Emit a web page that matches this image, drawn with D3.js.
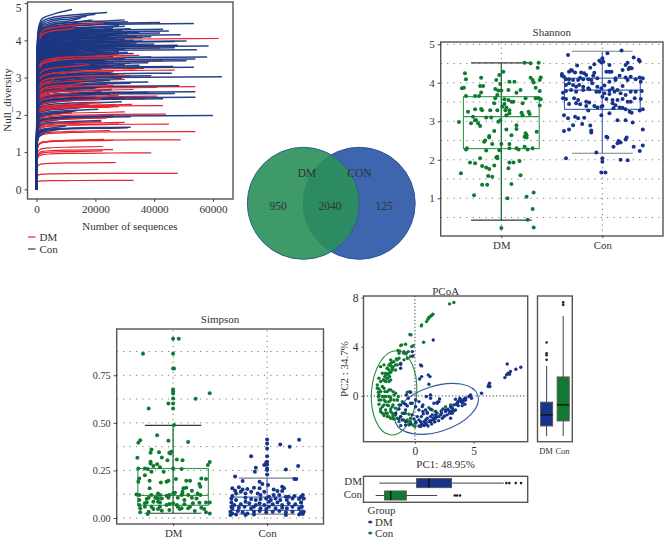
<!DOCTYPE html>
<html>
<head>
<meta charset="utf-8">
<script src="https://cdn.jsdelivr.net/npm/d3@7"></script>
<style>
  html, body { margin: 0; padding: 0; background: #fff; }
  text { font-family: "Liberation Serif", serif; fill: #333; }
</style>
</head>
<body>
<div id="chart"></div>
<script>
// ---- rarefaction curves : [final depth, final diversity]
var rareDM = [[33000,.24],[48000,.43],[27000,.72],[39000,.98],[26000,1.07],[22500,1.03],[22500,1.15],[49000,1.33],[26000,1.32],[23000,1.34],[54000,1.55],[25000,1.58],[45000,1.75],[30000,1.8],[28000,1.76],[22000,1.82],[23500,1.92],[26000,1.95],[44000,2.02],[30000,2.08],[43000,2.25],[32500,2.28],[27000,2.23],[27000,2.26],[37000,2.43],[41000,2.5],[33500,2.6],[15000,2.62],[25500,2.7],[41000,2.74],[54000,2.76],[30000,2.95],[23000,2.92],[33000,3.2],[47000,3.2],[36500,3.25],[32000,3.05],[32000,3.38],[43000,3.45],[30000,3.5],[20000,3.6],[35000,3.6],[27000,3.7],[62000,4.05],[33000,4.1],[42000,3.8],[18000,4.45]];
var rareCon = [[12000,4.83],[20000,4.7],[24000,4.75],[30000,4.55],[31000,4.5],[42000,4.48],[53500,4.45],[28000,4.4],[43000,4.3],[45000,4.25],[28000,4.2],[42000,4.2],[49000,4.15],[39000,4.1],[34000,4.1],[51000,3.98],[47000,3.97],[36000,3.98],[40000,3.9],[41000,3.85],[48000,3.87],[58500,3.85],[47000,3.8],[54500,3.75],[28000,3.7],[33000,3.65],[58000,3.55],[54000,3.5],[51000,3.45],[39000,3.55],[38000,3.4],[35000,3.33],[46500,3.3],[53500,3.28],[46000,3.12],[39000,3.05],[63000,3.02],[29000,2.98],[38000,2.88],[32000,2.85],[48500,2.78],[25500,2.68],[38000,2.6],[54000,2.62],[47000,2.57],[54000,2.47],[43000,2.43],[30000,2.45],[29000,2.35],[21000,2.15],[60000,1.98],[26000,1.97],[32000,1.95],[22000,1.85],[31000,1.65],[32000,1.67],
  [17000,4.65],[15000,4.6],[19000,4.55],[14000,4.5],[25000,4.45],[13000,4.42],[22000,4.35],[16000,4.32],[26000,4.28],[20000,4.24],[18000,4.15],[24000,4.12],[27000,4.05],[21000,4.02],[25000,3.95],[19000,3.92],[30000,3.88],[24000,3.82],[17000,3.78],[22000,3.72],[16000,3.68],[21000,3.62],[26000,3.58],[14000,3.52],[23000,3.46],[12000,3.42],[20000,3.36],[25000,3.3],[11000,3.26],[18000,3.14],[24000,3.1],[20000,2.96],[15000,2.9],[10000,2.82],[22000,2.75],[14000,2.5],[12000,2.4],[18000,2.3],[8000,2.22],[12000,2.08],[9000,1.9],[10000,1.7],[6000,3.78],[7000,4.1],[5000,4.35],[4000,3.2],[3000,2.9],[5000,2.05],[3000,1.55],
  [30000,4.38],[26000,4.34],[32000,4.31],[29000,4.26],[35000,4.22],[31000,4.18],[27000,4.14],[36000,4.08],[30000,4.03],[33000,4],[28000,3.96],[34000,3.93],[29000,3.9],[32000,3.84],[27000,3.8],[30000,3.76],[26000,3.74],[31000,3.68],[28000,3.64],[30000,3.52],[24000,3.48],[29000,3.44],[26000,3.4],[30000,3.35],[22000,3.24],[26000,3.16],[28000,3.1],[25000,2.92],[24000,2.82],[20000,2.72],[22000,2.62],[25000,2.55],[20000,2.48],[16000,2.42],[15000,2.2],[14000,2.12],[10000,1.92],[8000,1.62],[14000,3.02],[12000,3.18],[15000,3.28]];
// red curves that lie over the blue ones once they have levelled off
var rareDMTop = [[27500,3.61],[13000,4.38],[23000,4.47],[8000,3.55],[34000,3.2],[30000,3.07],[26000,2.8],[20000,2.95],[28000,2.53],[27000,2.26],[15000,2.62],[33000,2.68],[28000,2.22],[26000,2.28],[24000,1.92],[30000,3.55],[22000,2.42],[12000,2.05],[18000,3.35],[16000,2.85],[6000,3],[10000,2.72],[22000,2.32]];
// shape shared by the curves
var rareSeqs = [0, 60, 200, 500, 1000, 2000, 5000, 12000, 25000];
var rareFrac = [0, .5, .78, .88, .92, .95, .97, .985, .995];
var rareXTicks = [0, 20000, 40000, 60000];
var rareYTicks = [0, 1, 2, 3, 4, 5];

// ---- venn
var vennSets = ["DM", "CON"];
var vennCounts = [950, 2040, 125];

// ---- shannon : [jitter, value]
var groupNames = ["DM", "Con"];
var shannonDM = [[-.36,4.25],[-.35,4.09],[-.39,3.86],[-.37,3.87],[-.35,3.66],[-.26,3.66],[-.22,3.66],[-.2,4.13],[-.21,3.92],[-.18,3.92],[-.2,3.75],[-.05,4.07],[-.02,4.2],[.02,4.29],[-.01,3.97],[-.06,3.84],[-.03,3.8],[-.04,3.68],[0,3.8],[.08,4.03],[.13,4.03],[.07,3.81],[.15,3.74],[.19,3.81],[.23,4.52],[.29,4.51],[.37,4.52],[.36,4.39],[.29,4.13],[.31,4.07],[.32,4.01],[.39,4.14],[.38,4.07],[.34,3.87],[.38,3.79],[.37,3.6],[.39,3.57],[.38,3.41],[.34,3.6],[.24,3.6],[.21,3.47],[.03,3.57],[.07,3.55],[.1,3.51],[.12,3.51],[-.06,3.6],[-.07,3.47],[.03,3.45],[.01,3.38],[.05,3.36],[.08,3.29],[.04,3.29],[-.04,3.29],[-.11,3.29],[-.2,3.32],[-.19,3.29],[-.33,3.25],[-.26,3.31],[-.42,2.98],[-.28,3.12],[-.3,2.95],[-.26,3.03],[-.25,3.03],[-.23,2.95],[-.21,2.88],[-.15,3.1],[-.1,3.1],[-.03,2.99],[-.01,3.03],[.08,3.21],[.05,3.16],[.2,3.22],[.21,3.16],[.27,3.25],[.28,3.19],[.15,2.9],[.15,2.8],[.05,2.79],[.1,2.64],[.24,2.69],[.25,2.58],[.25,2.64],[.23,2.6],[.35,2.73],[-.07,2.75],[-.12,2.62],[-.12,2.58],[-.16,2.5],[-.17,2.47],[-.09,2.41],[0,2.41],[.08,2.41],[-.35,2.27],[-.34,2.3],[-.15,2.24],[-.02,2.25],[.08,2.3],[.15,2.3],[.17,2.27],[.23,2.34],[.26,2.27],[.31,2.3],[-.21,2.04],[-.31,1.93],[-.26,1.91],[-.05,2.06],[-.04,2.08],[-.04,2.04],[-.19,1.84],[-.15,1.8],[-.12,1.76],[-.07,1.85],[.07,1.78],[.08,1.93],[.12,1.93],[.18,1.97],[-.4,1.65],[-.13,1.58],[-.09,1.56],[.19,1.6],[-.19,1.35],[-.14,1.35],[.1,1.37],[-.27,1.08],[.06,1],[.25,1.04],[.32,1.15],[.31,.72],[.26,.44],[0,.23],[.32,.24]];
var shannonCon = [[-.34,4.72],[.05,4.77],[.19,4.84],[.31,4.66],[.36,4.6],[.37,4.56],[.25,4.52],[.23,4.46],[.27,4.39],[.07,4.46],[0,4.64],[-.03,4.57],[-.01,4.53],[.01,4.55],[-.3,4.31],[-.25,4.45],[-.4,4.23],[-.38,4.16],[-.33,4.29],[-.31,4.33],[-.27,4.27],[-.21,4.27],[-.18,4.25],[-.16,4.2],[-.12,4.39],[-.08,4.48],[-.08,4.26],[.04,4.29],[.07,4.29],[.09,4.29],[.2,4.33],[.26,4.36],[.29,4.38],[-.4,4.18],[-.36,4.09],[-.33,4.09],[-.29,4.07],[-.24,4.07],[-.22,4.13],[-.19,4.09],[-.14,4.09],[-.11,4.07],[-.09,4.18],[-.05,4.12],[-.36,3.94],[-.33,3.99],[-.29,3.94],[-.26,3.9],[-.23,3.94],[-.19,3.9],[-.14,3.86],[-.1,3.99],[-.05,3.9],[-.01,3.86],[.02,3.93],[.07,4.03],[.13,4.07],[.13,4.12],[.17,4.18],[.23,4.14],[.25,4.07],[.28,4.16],[.37,4.14],[.4,4.12],[.38,4.03],[.33,4.09],[.2,3.92],[.15,3.81],[.1,3.86],[.07,3.8],[-.39,3.74],[-.36,3.79],[-.31,3.81],[-.26,3.77],[-.19,3.81],[-.13,3.83],[-.06,3.77],[-.03,3.77],[.02,3.73],[.07,3.71],[.12,3.77],[.18,3.73],[.23,3.68],[.28,3.77],[.33,3.77],[.39,3.79],[-.39,3.6],[-.36,3.58],[-.28,3.6],[-.24,3.55],[-.16,3.51],[-.13,3.49],[0,3.64],[.04,3.58],[.1,3.55],[.15,3.55],[.2,3.58],[.25,3.51],[.28,3.51],[.32,3.6],[.38,3.58],[-.33,3.45],[-.26,3.47],[-.22,3.44],[-.16,3.4],[-.08,3.4],[-.05,3.36],[-.01,3.38],[0,3.4],[.1,3.47],[.13,3.42],[.17,3.36],[.2,3.35],[.23,3.31],[.27,3.25],[.29,3.22],[.37,3.28],[.4,3.31],[-.14,3.28],[-.38,3.16],[-.34,3.08],[-.27,3.12],[-.24,3.08],[-.18,3.09],[-.01,3.16],[.07,3.21],[.11,3.34],[.15,3.03],[.23,3.03],[.3,2.97],[-.29,2.9],[-.2,2.93],[-.33,2.79],[-.38,2.75],[-.12,2.89],[-.11,2.76],[-.11,2.71],[.04,2.6],[.05,2.58],[.24,2.58],[.23,2.53],[.16,2.49],[.18,2.45],[.11,2.34],[.15,2.43],[.31,2.34],[.4,2.37],[.37,2.23],[-.06,2.19],[-.36,2.04],[0,2.04],[0,1.95],[.18,2],[.25,1.99],[-.01,1.67],[.03,1.67],[.4,2.79]];
// [q1, median, q3, low whisker, high whisker]
var shannonBoxes = [[2.29,3.12,3.64,.43,4.52],[3.31,3.81,4.12,2.17,4.82]];
var shannonTicks = [1, 2, 3, 4, 5];

// ---- simpson : [jitter, value]
var simpsonDM = [[0,.942],[.06,.942],[-.32,.863],[0,.863],[0,.785],[.01,.785],[0,.675],[0,.666],[0,.654],[0,.628],[0,.601],[0,.575],[-.26,.575],[-.05,.601],[.24,.626],[.39,.655],[.01,.488],[-.17,.435],[-.05,.406],[.16,.399],[-.35,.409],[-.37,.395],[-.23,.36],[-.24,.343],[-.15,.346],[-.04,.343],[-.02,.348],[-.38,.316],[-.24,.295],[-.24,.287],[-.03,.339],[-.12,.318],[-.06,.304],[.04,.308],[.1,.304],[-.17,.283],[-.21,.273],[-.14,.266],[.39,.294],[.37,.278],[-.37,.26],[-.3,.26],[-.27,.257],[-.23,.243],[-.1,.243],[0,.26],[.09,.257],[-.36,.208],[-.37,.191],[-.3,.225],[-.25,.196],[-.25,.156],[-.13,.187],[-.07,.191],[-.05,.196],[.03,.205],[.14,.196],[.18,.196],[.3,.208],[.35,.205],[.28,.178],[.29,.164],[.14,.159],[.11,.156],[.2,.143],[.1,.138],[.09,.121],[-.39,.124],[-.36,.121],[-.23,.121],[-.16,.129],[-.14,.121],[-.07,.117],[-.04,.121],[0,.129],[.02,.133],[.1,.124],[.16,.121],[.26,.129],[.29,.121],[-.36,.094],[-.28,.1],[-.26,.107],[-.19,.107],[-.18,.108],[-.16,.103],[-.12,.103],[-.05,.107],[.05,.107],[.12,.094],[.2,.107],[.25,.103],[.35,.082],[.39,.082],[-.36,.068],[-.3,.077],[-.28,.082],[-.21,.086],[-.16,.086],[-.14,.082],[-.04,.073],[0,.077],[.04,.068],[.12,.072],[.21,.077],[.28,.08],[-.35,.051],[-.3,.059],[-.23,.059],[-.14,.059],[-.07,.068],[.05,.059],[.09,.051],[.18,.059],[.3,.054],[.33,.047],[-.35,.03],[-.26,.033],[-.21,.047],[-.16,.047],[-.04,.042],[.07,.047],[.16,.051],[.23,.037],[.35,.03],[.39,.024],[-.27,.021],[-.12,.038]];
var simpsonCon = [[0,.412],[0,.392],[.14,.386],[.24,.374],[.34,.411],[-.17,.325],[0,.365],[0,.325],[0,.295],[-.01,.292],[0,.281],[-.03,.278],[0,.26],[0,.252],[.2,.255],[.33,.273],[-.12,.264],[-.13,.243],[-.34,.218],[0,.229],[.29,.205],[.31,.205],[-.26,.194],[-.08,.191],[-.05,.178],[.01,.173],[-.37,.156],[-.34,.143],[-.3,.161],[-.26,.15],[-.21,.152],[-.14,.159],[-.08,.156],[.07,.15],[.11,.142],[.16,.164],[.18,.156],[.16,.142],[-.37,.115],[-.33,.129],[-.28,.138],[-.23,.129],[-.17,.138],[-.1,.129],[-.07,.121],[-.03,.138],[.02,.112],[.07,.121],[.13,.121],[.2,.112],[.23,.112],[.29,.115],[.36,.112],[.38,.121],[-.38,.103],[-.33,.094],[-.23,.107],[-.17,.1],[-.12,.094],[-.07,.1],[-.01,.103],[.04,.094],[.09,.103],[.14,.094],[.21,.094],[.27,.103],[.34,.1],[.39,.103],[-.38,.082],[-.35,.068],[-.28,.072],[-.23,.086],[-.19,.077],[-.12,.068],[-.08,.077],[-.03,.068],[.02,.086],[.06,.072],[.11,.082],[.16,.068],[.23,.077],[.3,.072],[.36,.082],[-.38,.059],[-.37,.051],[-.3,.054],[-.24,.059],[-.17,.051],[-.14,.059],[-.07,.051],[-.01,.047],[.02,.059],[.09,.051],[.16,.054],[.21,.051],[.27,.059],[.34,.051],[.37,.059],[-.39,.033],[-.37,.024],[-.31,.037],[-.26,.03],[-.21,.024],[-.14,.033],[-.08,.037],[-.01,.03],[.06,.033],[.13,.037],[.2,.03],[.27,.033],[.36,.03],[.39,.033],[-.39,.016],[-.33,.019],[-.23,.016],[-.14,.019],[.2,.016],[.34,.019],[.38,.021]];
var simpsonBoxes = [[.067,.118,.26,.025,.487],[.04,.065,.11,.02,.21]];
var simpsonTicks = [0, .25, .5, .75];

// ---- PCoA : [PC1, PC2]
var pcoaCon = [[2.95,7.48],[3.32,7.59],[1.53,6.64],[1.42,6.53],[1.31,6.45],[1.19,6.37],[1.11,6.23],[.99,6.04],[.54,5.69],[.57,5.77],[-.43,4.99],[-.34,4.96],[.74,4.36],[-.14,4.09],[-.28,4.01],[-.8,4.2],[-1.14,4.15],[-1.22,4.09],[-1.45,3.69],[-1.31,3.66],[-.94,3.47],[-.74,3.47],[-.57,3.6],[-1.36,3.06],[-1.59,3.01],[-1.51,2.93],[-2.07,2.93],[-1.93,2.74],[-2.22,2.52],[-2.07,2.44],[-1.87,2.38],[-1.65,2.52],[-2.36,2.25],[-2.22,2.11],[-1.93,2.11],[-2.5,1.84],[-2.3,1.76],[-2.07,1.92],[-2.58,1.57],[-2.36,1.44],[-2.16,1.57],[-2.7,1.3],[-2.5,1.17],[-2.22,1.17],[-3.21,.89],[-3.07,.57],[-2.78,.76],[-3.12,.3],[-2.93,.35],[-2.56,.35],[-2.22,.49],[-1.87,.35],[-1.65,.22],[-3.12,-.05],[-2.78,-.05],[-2.5,-.05],[-2.07,-.14],[-1.42,-.05],[-.65,.3],[-.45,.35],[-3.07,-.33],[-2.64,-.33],[-2.22,-.46],[-1.79,-.33],[-1.51,-.33],[-1.08,-.46],[-3.07,-.68],[-2.64,-.73],[-2.27,-.79],[-1.87,-.73],[-1.36,-.73],[-2.93,-1.06],[-2.5,-1.14],[-2.07,-1.06],[-1.65,-1],[-2.78,-1.41],[-2.36,-1.41],[-1.93,-1.41],[-2.64,-1.6],[-2.22,-1.68],[-1.87,-1.6],[-2.07,-1.82],[-1.79,-1.87],[-1.08,-1.41],[-.8,-1.41],[-.51,-1.49],[-1.36,-2.09],[-.65,-1.95],[-.37,-2.09],[-.17,-2.36],[0,-2.49],[-.51,-2.36],[.06,-2.22],[1.05,-1.33],[1.48,-1.14],[1.9,-1.41],[3.04,-.73],[2.61,-.87],[1.19,-.95],
  [-2.93,2.38],[-2.64,2.52],[-2.36,2.25],[-2.78,1.84],[-2.5,1.71],[-2.22,1.84],[-2.07,2.66],[-1.79,2.79],[-1.93,2.25],[-1.65,2.11],[-1.51,2.52],[-3.07,1.44],[-2.93,1.17],[-2.64,1.3],[-2.36,1.44],[-2.07,1.3],[-3.21,.62],[-2.93,.35],[-2.64,.62],[-2.36,.35],[-2.07,.49],[-3.07,.08],[-2.64,-.05],[-2.22,-.05],[-1.79,.08],[-2.93,-.33],[-2.5,-.46],[-2.07,-.33],[-1.51,-.33],[-2.78,-.87],[-2.36,-.73],[-1.93,-.87],[-2.93,-1.27],[-2.5,-1.41],[-2.07,-1.27],[-1.65,-1.54],[-2.36,-1.68],[-1.93,-1.82],[-1.51,-1.82],[-1.22,-1.68],[-.94,-1.95],[-.65,-2.09],[-.37,-1.82],[.06,-2.09],[-1.22,2.66],[-.94,2.93],[-.65,3.06],[-1.36,3.47],[-.94,3.6],[-.37,3.2]];
var pcoaDM = [[1.56,4.55],[-.23,3.6],[-.17,3.25],[-1.22,2.57],[-1.22,2.25],[.48,2.52],[.57,2.44],[1.14,1.71],[1.28,1.57],[.57,1.57],[.4,1.38],[1.19,.95],[7.87,2.6],[9.03,2.33],[8.61,2.17],[8.15,1.98],[7.95,1.84],[7.81,1.71],[7.67,1.49],[8.07,1.76],[6.36,1.03],[6.3,.89],[6.25,.76],[6.39,.76],[5.68,.22],[4.74,.03],[4.83,-.19],[4.26,-.19],[4.12,-.33],[4.32,-.33],[3.89,-.46],[4.03,-.51],[3.81,-.33],[3.61,-.6],[4.26,-.68],[4.03,-.79],[2.1,-.24],[1.9,-.51],[1.62,-.6],[1.33,-.19],[.97,-.05],[.68,-.73],[.34,-.46],[.06,-.33],[-.37,-.6],[-.8,-.68],[-.57,-.19],[-.37,.3],[-.74,.08],[-.94,-.6],[-1.22,-.73],[-1.36,-1.06],[-1.65,-1.41],[-1.22,-1.68],[-.8,-1.14],[-.23,-1.54],[.34,-1.14],[.68,-1.27],[1.05,-1.41],[3.46,-1.14],[3.18,-1],[3.04,-.87],[2.9,-1.22],[2.61,-1.14],[2.39,-1.06],[2.27,-1.41],[2.75,-1.54],[2.47,-1.68],[2.04,-1.68],[1.76,-1.82],[1.48,-1.95],[1.62,-1.76],[1.19,-2.09],[.91,-1.95],[.77,-2.09],[.57,-2.3],[.77,-2.41],[.34,-1.95],[.06,-2.14],[.2,-1.68],[-.09,-1.87],[-1.08,-1.95],[-1.36,-1.87],[-.8,-2.36],[-1.22,-2.41],[.48,-2.49],[.97,-2.3],[1.33,-1.68],[1.7,-2.09],[3.04,-1.27],[3.32,-1.22],[3.52,-.68],[3.69,-.79],[3.18,-1.41],[1.76,-1.54],[1.33,-2.09],
  [.77,-2.36],[.91,-2.17],[1.11,-2.44],[1.28,-2.01],[1.42,-2.28],[1.56,-1.9],[1.68,-2.11],[1.85,-1.68],[2.02,-2.01],[2.19,-1.54],[2.33,-1.82],[2.53,-1.63],[2.61,-1.27],[2.81,-1.08],[2.98,-1.41],[3.12,-.92],[3.24,-1.14],[3.32,-.73],[3.04,-1.82],[2.24,-1.22],[1.76,-1.27],[1.48,-1.54],[.48,-2.09],[.54,-1.68],[1.05,-1.82],[.71,-1.46],[.91,-1.14],[.34,-2.44],[-.37,-2.28],[-.8,-2.09],[-.94,-1.41],[-.65,-.81],[-.23,-.6],[.06,-.87],[.62,-.87],[1.33,-1.08],[2.04,-.46],[3.89,-.33],[4.03,-.54],[4.32,-.19],[3.66,-.46],[3.46,-.27],[4.6,-.05],[4.74,.08],[4.17,-.38],[3.83,-.19],[1.9,-.6],[1.33,.08]];
var pcoaXTicks = [0, 5];
var pcoaYTicks = [0, 4, 8];
// ellipse : [centre PC1, centre PC2, semi axis 1 in PC1 units, semi axis 2 in PC2 units, tilt]
var ellipseCon = [-1.78, .25, 1.93, 3.43, 4];
var ellipseDM = [1.85, -1.05, 3.7, 1.85, -18];
// marginal boxes : [q1, median, q3, low whisker, high whisker]
var marginPC2 = [[-2.44,-1.54,-.51,-3.25,2.44],[-2.03,-.73,1.54,-3.25,6.5]];
var marginPC2Out = [[4.34,3.47,3.3,2.93],[7.4,7.6]];
var marginPC1 = [[.14,1.19,3.12,-3.04,7.58],[-2.59,-2.07,-.74,-3.35,1.9]];
var marginPC1Out = [[7.8,8.05,8.6,9.05],[3.4,3.6,3.85]];

var width = 664, height = 539;
var svg = d3.select("#chart").append("svg").attr("width", width).attr("height", height)
  .style("display", "block");

var textCol = "#333", frameCol = "#555";
var red = "#e9252f", navy = "#1c3782";
var greenDot = "#0f7a30", blueDot = "#17348a";

function label(g, x, y, txt, size, anchor, rotate) {
  var t = g.append("text").attr("x", x).attr("y", y).attr("text-anchor", anchor || "middle")
    .attr("dominant-baseline", "central").attr("font-size", size).text(txt);
  if (rotate) t.attr("transform", "rotate(" + rotate + "," + x + "," + y + ")");
  return t;
}

function frame(g, x, y) {
  g.append("rect").attr("x", x.range()[0]).attr("y", y.range()[1])
    .attr("width", x.range()[1] - x.range()[0]).attr("height", y.range()[0] - y.range()[1])
    .attr("fill", "none").attr("stroke", frameCol).attr("stroke-width", 1.4);
}

function styleAxis(a, size) {
  a.select(".domain").remove();
  a.selectAll("line").attr("stroke", "#444");
  a.selectAll("text").attr("font-size", size).attr("fill", textCol)
    .style("font-family", '"Liberation Serif", serif');
}

// ---- rarefaction panel
function drawRare() {
  var g = svg.append("g");
  var x = d3.scaleLinear().domain([-3100, 66800]).range([27.5, 233]);
  var y = d3.scaleLinear().domain([-.26, 5.03]).range([199, 2]);
  var line = d3.line().x(function (d) { return x(d[0]); }).y(function (d) { return y(d[1]); })
    .curve(d3.curveMonotoneX);

  function curvePts(c, from) {
    var pts = [];
    rareSeqs.forEach(function (s, i) {
      if (s < c[0] && s >= from) pts.push([s, rareFrac[i] * c[1]]);
    });
    pts.push(c);
    return pts;
  }
  // [curves, colour, width, opacity, first depth drawn]
  [[rareDM, red, 1.2, 1, 0], [rareCon, navy, 1.5, .95, 0], [rareDMTop, red, 1.2, 1, 1000]].forEach(function (s, i) {
    g.selectAll("path.r" + i).data(s[0]).enter().append("path").attr("class", "r" + i)
      .attr("d", function (d) { return line(curvePts(d, s[4])); })
      .attr("fill", "none").attr("stroke", s[1]).attr("stroke-width", s[2]).attr("stroke-opacity", s[3]);
  });
  frame(g, x, y);

  var ax = g.append("g").attr("transform", "translate(0,199)")
    .call(d3.axisBottom(x).tickValues(rareXTicks).tickFormat(d3.format("d")).tickSize(3));
  styleAxis(ax, 11.2);
  var ay = g.append("g").attr("transform", "translate(27.5,0)")
    .call(d3.axisLeft(y).tickValues(rareYTicks).tickFormat(d3.format("d")).tickSize(3));
  styleAxis(ay, 11.5);
  ay.selectAll("text").filter(function (d) { return d === 5; }).attr("dy", "0.75em");
  label(g, 130, 225.5, "Number of sequences", 11);
  label(g, 7, 100, "Null_diversity", 11, "middle", -90);

  [["DM", red, 237], ["Con", navy, 249]].forEach(function (l) {
    g.append("line").attr("x1", 28).attr("x2", 35.5).attr("y1", l[2]).attr("y2", l[2])
      .attr("stroke", l[1]).attr("stroke-width", 1.2);
    label(g, 39.5, l[2], l[0], 11, "start");
  });
}

// ---- venn panel
function drawVenn() {
  var g = svg.append("g");
  var r = 56, cy = 203.3;
  g.append("circle").attr("cx", 359.2).attr("cy", cy).attr("r", r)
    .attr("fill", "#3d66ae").attr("stroke", "#2f5594");
  g.append("circle").attr("cx", 303.3).attr("cy", cy).attr("r", r)
    .attr("fill", "#2a8f5a").attr("fill-opacity", .9).attr("stroke", "#2f5f8a");
  label(g, 307, 172.7, vennSets[0], 11.5);
  label(g, 359.5, 172.7, vennSets[1], 11.5);
  label(g, 278, 206, vennCounts[0], 11.5);
  label(g, 330, 206, vennCounts[1], 11.5);
  label(g, 384, 206, vennCounts[2], 11.5);
}

// ---- jitter + box panel
function drawBoxPanel(o) {
  var g = svg.append("g");
  var x = d3.scaleLinear().domain([.4, 2.6]).range(o.xr);
  var y = d3.scaleLinear().domain(o.yd).range(o.yr);
  var unit = x(2) - x(1);

  d3.range(o.gridFrom, o.yd[1], o.gridStep).forEach(function (v) {
    g.append("line").attr("x1", o.xr[0]).attr("x2", o.xr[1]).attr("y1", y(v)).attr("y2", y(v))
      .attr("stroke", "#777").attr("stroke-dasharray", "1.2 5.2");
  });
  [1, 2].forEach(function (c) {
    g.append("line").attr("x1", x(c)).attr("x2", x(c)).attr("y1", o.yr[0]).attr("y2", o.yr[1])
      .attr("stroke", "#777").attr("stroke-dasharray", "1.2 4");
  });

  var boxCols = ["#2f9a4c", "#3d62ad"], whiskCols = ["#17733a", "#5a78b8"], capCols = ["#2c3f33", "#7b7f88"];
  o.boxes.forEach(function (b, i) {
    var c = i + 1;
    g.append("line").attr("x1", x(c)).attr("x2", x(c)).attr("y1", y(b[3])).attr("y2", y(b[4]))
      .attr("stroke", whiskCols[i]).attr("stroke-width", 1.3);
    [b[3], b[4]].forEach(function (v) {
      g.append("line").attr("x1", x(c) - .3 * unit).attr("x2", x(c) + .3 * unit)
        .attr("y1", y(v)).attr("y2", y(v)).attr("stroke", capCols[i]).attr("stroke-width", 1.2);
    });
    g.append("rect").attr("x", x(c) - .375 * unit).attr("width", .75 * unit)
      .attr("y", y(b[2])).attr("height", y(b[0]) - y(b[2]))
      .attr("fill", "none").attr("stroke", boxCols[i]).attr("stroke-width", 1.1);
    g.append("line").attr("x1", x(c) - .375 * unit).attr("x2", x(c) + .375 * unit)
      .attr("y1", y(b[1])).attr("y2", y(b[1])).attr("stroke", boxCols[i]).attr("stroke-width", 1.1);
  });

  [o.dm, o.con].forEach(function (pts, i) {
    g.selectAll("circle.g" + i).data(pts).enter().append("circle").attr("class", "g" + i)
      .attr("cx", function (d) { return x(i + 1 + d[0]); })
      .attr("cy", function (d) { return y(d[1]); })
      .attr("r", 2).attr("fill", i ? blueDot : greenDot);
  });

  frame(g, x, y);
  var ay = g.append("g").attr("transform", "translate(" + o.xr[0] + ",0)")
    .call(d3.axisLeft(y).tickValues(o.ticks).tickFormat(o.fmt).tickSize(3));
  styleAxis(ay, o.tickSize);
  var ax = g.append("g").attr("transform", "translate(0," + o.yr[0] + ")")
    .call(d3.axisBottom(x).tickValues([1, 2]).tickFormat(function (d) { return groupNames[d - 1]; }).tickSize(2));
  styleAxis(ax, 10.8);
  label(g, (o.xr[0] + o.xr[1]) / 2, o.titleY, o.title, 11);
}

// ---- PCoA panel and its margins
function drawPcoa() {
  var g = svg.append("g");
  var x = d3.scaleLinear().domain([-4.39, 9.62]).range([363.5, 527.7]);
  var y = d3.scaleLinear().domain([-3.72, 8.12]).range([441.7, 296]);

  g.append("line").attr("x1", x(0)).attr("x2", x(0)).attr("y1", 296).attr("y2", 441.7)
    .attr("stroke", "#333").attr("stroke-dasharray", "1.2 2.2");
  g.append("line").attr("x1", 363.5).attr("x2", 527.7).attr("y1", y(0)).attr("y2", y(0))
    .attr("stroke", "#333").attr("stroke-dasharray", "1.2 2.2");

  [[ellipseCon, "#2b8a3e"], [ellipseDM, "#2f5aa0"]].forEach(function (e) {
    var p = e[0];
    g.append("ellipse").attr("cx", 0).attr("cy", 0)
      .attr("rx", Math.abs(x(p[2]) - x(0))).attr("ry", Math.abs(y(p[3]) - y(0)))
      .attr("transform", "translate(" + x(p[0]) + "," + y(p[1]) + ") rotate(" + p[4] + ")")
      .attr("fill", "none").attr("stroke", e[1]).attr("stroke-width", 1.1);
  });

  [[pcoaCon, greenDot], [pcoaDM, blueDot]].forEach(function (s, i) {
    g.selectAll("circle.s" + i).data(s[0]).enter().append("circle").attr("class", "s" + i)
      .attr("cx", function (d) { return x(d[0]); }).attr("cy", function (d) { return y(d[1]); })
      .attr("r", 1.7).attr("fill", s[1]);
  });
  frame(g, x, y);

  var ax = g.append("g").attr("transform", "translate(0,441.7)")
    .call(d3.axisBottom(x).tickValues(pcoaXTicks).tickSize(2));
  styleAxis(ax, 11.5);
  var ay = g.append("g").attr("transform", "translate(363.5,0)")
    .call(d3.axisLeft(y).tickValues(pcoaYTicks).tickSize(2));
  styleAxis(ay, 11.5);
  label(g, 445.7, 290.5, "PCoA", 11);
  label(g, 445.7, 463.5, "PC1: 48.95%", 11);
  label(g, 344, 369, "PC2 : 34.7%", 11, "middle", -90);

  var boxFill = [blueDot, greenDot];

  // right margin (PC2)
  var xr = d3.scaleBand().domain(groupNames).range([537.5, 572.3]).padding(.1);
  var xrFrame = d3.scaleLinear().range([537.5, 572.3]);
  marginPC2.forEach(function (b, i) {
    var cx = xr(groupNames[i]) + xr.bandwidth() / 2, w = 12;
    g.append("line").attr("x1", cx).attr("x2", cx).attr("y1", y(b[3])).attr("y2", y(b[4]))
      .attr("stroke", "#444");
    g.append("rect").attr("x", cx - w / 2).attr("width", w).attr("y", y(b[2])).attr("height", y(b[0]) - y(b[2]))
      .attr("fill", boxFill[i]).attr("stroke", "#555");
    g.append("line").attr("x1", cx - w / 2).attr("x2", cx + w / 2).attr("y1", y(b[1])).attr("y2", y(b[1]))
      .attr("stroke", "#111").attr("stroke-width", 1.4);
    marginPC2Out[i].forEach(function (v) {
      g.append("circle").attr("cx", cx).attr("cy", y(v)).attr("r", 1.3).attr("fill", "#222");
    });
    label(g, i ? 562.5 : 546, 451, groupNames[i], 8.5);
  });
  frame(g, xrFrame, y);

  // bottom margin (PC1)
  var yb = d3.scaleBand().domain(groupNames).range([476.3, 502.3]).padding(.1);
  var ybFrame = d3.scaleLinear().range([502.3, 476.3]);
  marginPC1.forEach(function (b, i) {
    var cy = yb(groupNames[i]) + yb.bandwidth() / 2, h = 9;
    g.append("line").attr("x1", x(b[3])).attr("x2", x(b[4])).attr("y1", cy).attr("y2", cy).attr("stroke", "#444");
    g.append("rect").attr("x", x(b[0])).attr("width", x(b[2]) - x(b[0])).attr("y", cy - h / 2).attr("height", h)
      .attr("fill", boxFill[i]).attr("stroke", "#555");
    g.append("line").attr("x1", x(b[1])).attr("x2", x(b[1])).attr("y1", cy - h / 2).attr("y2", cy + h / 2)
      .attr("stroke", "#111").attr("stroke-width", 1.4);
    marginPC1Out[i].forEach(function (v) {
      g.append("circle").attr("cx", x(v)).attr("cy", cy).attr("r", 1.3).attr("fill", "#222");
    });
    label(g, 362, i ? 493.5 : 481, groupNames[i], 11, "end");
  });
  frame(g, x, ybFrame);

  label(g, 367.5, 509.5, "Group", 11, "start");
  [[groupNames[0], blueDot, 522], [groupNames[1], greenDot, 533]].forEach(function (l) {
    g.append("line").attr("x1", 368).attr("x2", 372.5).attr("y1", l[2]).attr("y2", l[2]).attr("stroke", l[1]);
    g.append("circle").attr("cx", 370.2).attr("cy", l[2]).attr("r", 1.6).attr("fill", l[1]);
    label(g, 375, l[2], l[0], 11, "start");
  });
}

drawRare();
drawVenn();
drawBoxPanel({
  title: "Shannon", titleY: 31.7, xr: [440.7, 663], yr: [236, 42], yd: [.02, 5.06],
  gridFrom: .5, gridStep: .5, ticks: shannonTicks, fmt: d3.format("d"), tickSize: 11,
  dm: shannonDM, con: shannonCon, boxes: shannonBoxes
});
drawBoxPanel({
  title: "Simpson", titleY: 319, xr: [116.7, 323.5], yr: [524, 329], yd: [-.0315, .993],
  gridFrom: 0, gridStep: .125, ticks: simpsonTicks, fmt: d3.format(".2f"), tickSize: 10.2,
  dm: simpsonDM, con: simpsonCon, boxes: simpsonBoxes
});
drawPcoa();
</script>
</body>
</html>
